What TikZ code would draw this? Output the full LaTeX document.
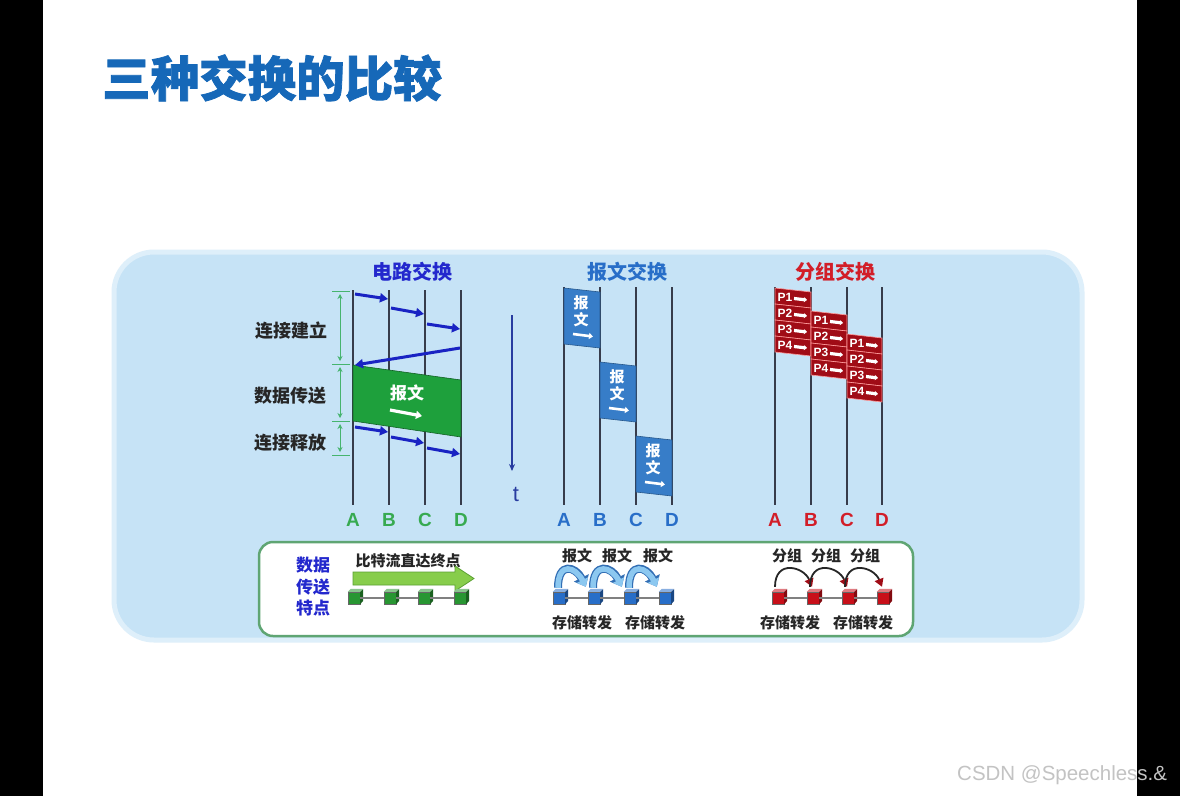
\documentclass[tikz,border=0pt]{standalone}
\usepackage{fontspec}
\setmainfont{Noto Sans CJK SC}
\newfontfamily\heavy{Noto Sans CJK SC}[BoldFeatures={FakeBold=1.6}]
\newfontfamily\latf{Liberation Sans}
\usetikzlibrary{arrows.meta,calc}
\definecolor{titleblue}{RGB}{22,104,184}
\definecolor{panelfill}{RGB}{198,227,246}
\definecolor{paneledge}{RGB}{222,239,250}
\definecolor{cirblue}{RGB}{35,40,205}
\definecolor{sigblue}{RGB}{25,35,195}
\definecolor{cirgreen}{RGB}{55,170,80}
\definecolor{datagreen}{RGB}{30,160,60}
\definecolor{brkgreen}{RGB}{70,180,110}
\definecolor{msgblue}{RGB}{55,125,200}
\definecolor{msgtxt}{RGB}{40,110,200}
\definecolor{pktred}{RGB}{160,12,22}
\definecolor{redtxt}{RGB}{210,30,40}
\definecolor{lineg}{RGB}{55,60,75}
\definecolor{boxgreen}{RGB}{95,165,115}
\definecolor{arrgreen}{RGB}{135,205,75}
\definecolor{arrgreend}{RGB}{90,160,50}
\definecolor{cubegreen}{RGB}{40,150,50}
\definecolor{cubeblue}{RGB}{40,110,200}
\definecolor{cubered}{RGB}{200,15,25}
\definecolor{fatdark}{RGB}{50,110,180}
\definecolor{fatlight}{RGB}{140,200,240}
\definecolor{tblue}{RGB}{40,60,160}
\definecolor{wmgray}{RGB}{195,195,195}
\newcommand\mkcube[4]{%
  \node[cubebox, fill=#4] (#1) at (#2,#3) {};
  \fill[#4!55!white] (#1.north west) -- ++(3,-3) -- ++(12,0) -- (#1.north east) -- cycle;
  \fill[#4!65!black] (#1.north east) -- ++(3,-3) -- ++(0,12) -- (#1.south east) -- cycle;
}
\begin{document}
\begin{tikzpicture}[x=1pt,y=-1pt,
  timeline/.style={draw=lineg, line width=1.8},
  sig/.style={draw=sigblue, line width=3, -{Triangle[length=8,width=9]}},
  brk/.style={draw=brkgreen, line width=1},
  side/.style={font=\fontsize{18}{20}\selectfont\bfseries, text=black!85},
  hdr/.style={font=\fontsize{20}{22}\selectfont\bfseries},
  abcd/.style={font=\latf\fontsize{19}{20}\selectfont\bfseries},
  cubebox/.style={minimum size=12, inner sep=0, draw=black!60, line width=0.4},
  small/.style={font=\fontsize{15}{16}\selectfont\bfseries, text=black!85},
  boxtxt/.style={font=\fontsize{15}{16}\selectfont\bfseries, text=white, inner sep=0},
  pkttxt/.style={font=\latf\fontsize{12}{12}\selectfont\bfseries, text=white, inner sep=0},
  pkt/.style={fill=pktred, draw=red!40!white, line width=0.6},
  msgbox/.style={fill=msgblue, draw=msgblue!70!black, line width=0.6}
]
\useasboundingbox (0,0) rectangle (1180,796);
\fill[black] (0,0) rectangle (1180,796);
\fill[white] (43,0) rectangle (1137,796);

% title
\node[anchor=west, text=titleblue, font=\heavy\fontsize{48.5}{50}\selectfont\bfseries, inner sep=0] (title) at (102,78) {三种交换的比较};

% panel
\draw[line width=5, draw=paneledge, fill=panelfill, rounded corners=40] (114,252) rectangle (1082,640);

% ===== circuit switching =====
\node[hdr, text=cirblue] (hc) at (412,272) {电路交换};
\foreach \n/\x in {A/353,B/389,C/425,D/461} {
  \coordinate (c\n t) at (\x,290);
  \coordinate (c\n b) at (\x,505);
  \draw[timeline] (c\n t) -- (c\n b);
  \node[abcd, text=cirgreen] (c\n l) at (\x,520) {\n};
}
% data block
\fill[datagreen, draw=datagreen!60!black, line width=0.6] (353,365) -- (461,380) -- (461,437) -- (353,421) -- cycle;
\node[font=\fontsize{17}{18}\selectfont\bfseries, text=white] (cdata) at (407,393) {报文};
\coordinate (cw1) at (390,410);
\coordinate (cw2) at (422,416);
\draw[white, line width=3.2, -{Triangle[length=6,width=8]}] (cw1) -- (cw2);
% setup arrows
\coordinate (s1a) at (355,294); \coordinate (s1b) at (388,299);
\coordinate (s2a) at (391,308); \coordinate (s2b) at (424,314);
\coordinate (s3a) at (427,324); \coordinate (s3b) at (460,329);
\coordinate (rta) at (460,348); \coordinate (rtb) at (355,365);
\draw[sig] (s1a) -- (s1b);
\draw[sig] (s2a) -- (s2b);
\draw[sig] (s3a) -- (s3b);
\draw[sig] (rta) -- (rtb);
\coordinate (r1a) at (355,427); \coordinate (r1b) at (388,432);
\coordinate (r2a) at (391,437); \coordinate (r2b) at (424,443);
\coordinate (r3a) at (427,448); \coordinate (r3b) at (460,454);
\draw[sig] (r1a) -- (r1b);
\draw[sig] (r2a) -- (r2b);
\draw[sig] (r3a) -- (r3b);
% brackets
\foreach \y/\k in {291/1,364/2,421/3,455/4} {
  \coordinate (k\k a) at (332,\y); \coordinate (k\k b) at (350,\y);
  \draw[brk] (k\k a) -- (k\k b);
}
\coordinate (v1a) at (340,294); \coordinate (v1b) at (340,361);
\coordinate (v2a) at (340,367); \coordinate (v2b) at (340,418);
\coordinate (v3a) at (340,424); \coordinate (v3b) at (340,452);
\foreach \k in {1,2,3} \draw[brk, {Stealth[length=5,width=5]}-{Stealth[length=5,width=5]}] (v\k a) -- (v\k b);
\node[side] (l1) at (291,331) {连接建立};
\node[side] (l2) at (290,396) {数据传送};
\node[side] (l3) at (290,443) {连接释放};

% time arrow
\coordinate (ta) at (512,315);
\coordinate (tb) at (512,471);
\draw[tblue, line width=1.6, -{Stealth[length=7,width=6]}] (ta) -- (tb);
\node[font=\latf\fontsize{22}{22}\selectfont, text=tblue] (tl) at (516,494) {t};

% ===== message switching =====
\node[hdr, text=msgtxt] (hm) at (627,272) {报文交换};
\foreach \n/\x in {A/564,B/600,C/636,D/672} {
  \coordinate (m\n t) at (\x,287);
  \coordinate (m\n b) at (\x,505);
  \draw[timeline] (m\n t) -- (m\n b);
  \node[abcd, text=msgtxt] (m\n l) at (\x,520) {\n};
}
\foreach \xa/\xb/\yt/\k in {564/600/288/1, 600/636/362/2, 636/672/436/3} {
  \draw[msgbox] (\xa,\yt) -- (\xb,{\yt+4}) -- (\xb,{\yt+60}) -- (\xa,{\yt+56}) -- cycle;
  \node[boxtxt] (mb\k a) at ({(\xa+\xb)/2-1},{\yt+15}) {报};
  \node[boxtxt] (mb\k b) at ({(\xa+\xb)/2-1},{\yt+32}) {文};
  \draw[white, line width=2.6, -{Triangle[length=4,width=6]}] ({\xa+9},{\yt+46}) -- ({\xb-7},{\yt+48.5});
}

% ===== packet switching =====
\node[hdr, text=redtxt] (hp) at (835,272) {分组交换};
\foreach \n/\x in {A/775,B/811,C/847,D/882} {
  \coordinate (p\n t) at (\x,287);
  \coordinate (p\n b) at (\x,505);
  \draw[timeline] (p\n t) -- (p\n b);
  \node[abcd, text=redtxt] (p\n l) at (\x,520) {\n};
}
\foreach \xa/\xb/\yt in {775/811/288, 811/847/311, 847/882/334} {
  \foreach \i in {1,2,3,4} {
    \pgfmathsetmacro\yy{\yt+16*(\i-1)}
    \draw[pkt] (\xa,\yy) -- (\xb,{\yy+4}) -- (\xb,{\yy+20}) -- (\xa,{\yy+16}) -- cycle;
    \node[pkttxt] at ({\xa+10},{\yy+9}) {P\i};
    \draw[white, line width=3.2, -{Triangle[length=3,width=5]}] ({\xa+19},{\yy+10.5}) -- ({\xb-4},{\yy+12});
  }
}

% ===== bottom box =====
\draw[line width=2.5, draw=boxgreen, fill=white, rounded corners=14] (259,542) rectangle (913,636);
\node[font=\fontsize{17}{18}\selectfont\bfseries, text=cirblue] (b1) at (313,565) {数据};
\node[font=\fontsize{17}{18}\selectfont\bfseries, text=cirblue] (b2) at (313,587) {传送};
\node[font=\fontsize{17}{18}\selectfont\bfseries, text=cirblue] (b3) at (313,608) {特点};

% circuit: bit stream
\node[small] (bs) at (408,561) {比特流直达终点};
\fill[arrgreen, draw=arrgreend, line width=0.8] (353,572) -- (455,572) -- (455,566) -- (474,578.5) -- (455,591) -- (455,585) -- (353,585) -- cycle;
\mkcube{g1}{354}{598}{cubegreen}
\mkcube{g2}{390}{598}{cubegreen}
\mkcube{g3}{424}{598}{cubegreen}
\mkcube{g4}{460}{598}{cubegreen}
\draw[gray, line width=1.5] (g1) -- (g2) (g2) -- (g3) (g3) -- (g4);

% message: store and forward
\node[small] (mt1) at (577,556) {报文};
\node[small] (mt2) at (617,556) {报文};
\node[small] (mt3) at (658,556) {报文};
\mkcube{m1}{559}{598}{cubeblue}
\mkcube{m2}{594}{598}{cubeblue}
\mkcube{m3}{630}{598}{cubeblue}
\mkcube{m4}{665}{598}{cubeblue}
\draw[gray, line width=1.5] (m1) -- (m2) (m2) -- (m3) (m3) -- (m4);
\foreach \i/\j in {1/2,2/3,3/4} {
  \draw[line width=8, draw=fatdark, -{Triangle[length=10,width=16]}] ($(m\i.north)+(-1,-4)$) .. controls +(0,-27) and +(-10,-20) .. ($(m\j.north west)+(-2,-5)$);
  \draw[line width=5.5, draw=fatlight, -{Triangle[length=7.5,width=12]}] ($(m\i.north)+(-1,-4)$) .. controls +(0,-27) and +(-10,-20) .. ($(m\j.north west)+(-2,-5)$);
}
\node[small] (ms1) at (582,623) {存储转发};
\node[small] (ms2) at (655,623) {存储转发};

% packet: store and forward
\node[small] (pt1) at (787,556) {分组};
\node[small] (pt2) at (826,556) {分组};
\node[small] (pt3) at (865,556) {分组};
\mkcube{q1}{778}{598}{cubered}
\mkcube{q2}{813}{598}{cubered}
\mkcube{q3}{848}{598}{cubered}
\mkcube{q4}{883}{598}{cubered}
\draw[gray, line width=1.5] (q1) -- (q2) (q2) -- (q3) (q3) -- (q4);
\foreach \i/\j in {1/2,2/3,3/4} {
  \draw[line width=1.8, draw=black!85, -{Triangle[length=8,width=9,color=pktred]}] ($(q\i.north)+(-3,-5)$) .. controls +(0,-28) and +(-8,-20) .. ($(q\j.north)+(-1,-5)$);
}
\node[small] (ps1) at (790,623) {存储转发};
\node[small] (ps2) at (863,623) {存储转发};

% watermark
\node[anchor=west, font=\latf\fontsize{20.5}{21}\selectfont, text=wmgray, inner sep=0] (wm) at (957,775) {CSDN @Speechless.\&};
\end{tikzpicture}
\end{document}
